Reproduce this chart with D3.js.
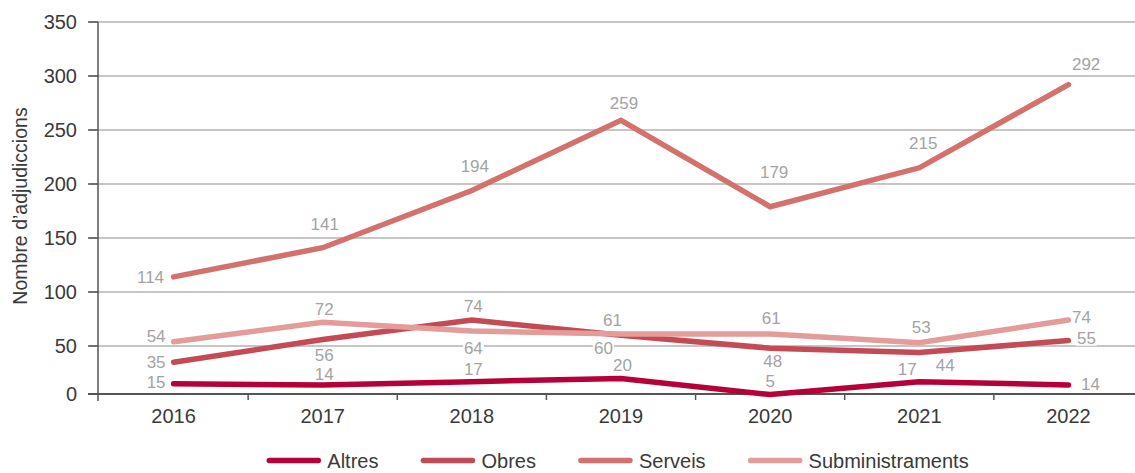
<!DOCTYPE html>
<html>
<head>
<meta charset="utf-8">
<script src="https://cdn.jsdelivr.net/npm/d3@7"></script>
<style>
  html, body { margin: 0; padding: 0; background: #fff; }
  svg { display: block; font-family: "Liberation Sans", Arial, Helvetica, sans-serif; }
</style>
</head>
<body>
<svg id="chart" width="1135" height="473"></svg>
<script>
// ---- Data ----
const years = ["2016", "2017", "2018", "2019", "2020", "2021", "2022"];
const seriesNames = ["Altres", "Obres", "Serveis", "Subministraments"];
const altres = [15, 14, 17, 20, 5, 17, 14];
const obres = [35, 56, 74, 60, 48, 44, 55];
const serveis = [114, 141, 194, 259, 179, 215, 292];
const subministraments = [54, 72, 64, 61, 61, 53, 74];
const yTicks = [0, 50, 100, 150, 200, 250, 300, 350];
const yTitle = "Nombre d\u2019adjudiccions";

// ---- Label placement (offsets from each point, px) ----
const altresLabelOffsets = [[-8, -1.5], [1.5, -11], [1.5, -13], [1.5, -13.5], [0, -13.5], [-12, -13], [12.5, -1.5]];
const obresLabelOffsets = [[-8, -0.5], [1.5, 15.5], [1.5, -14], [-17.5, 13], [2.5, 13], [26, 12], [8.5, -3]];
const serveisLabelOffsets = [[-9.5, 0], [2, -24], [3, -24.5], [3, -17.5], [4, -35], [4, -24.5], [3.5, -21]];
const subLabelOffsets = [[-8, -5.7], [1.5, -13], [1.5, 16.5], [-8.5, -14], [1, -16], [2, -16], [3.5, -3.5]];

// ---- Styles ----
const colors = ["#b5003a", "#c44a55", "#d4716f", "#e39c99"];

const W = 1135, H = 473;
const plotLeft = 99, plotRight = 1143, plotTop = 22, baseY = 394;

const svg = d3.select("#chart");

const x = d3.scaleBand().domain(years).range([plotLeft, plotRight]).paddingInner(0).paddingOuter(0);
const xc = d => x(d) + x.bandwidth() / 2;
const y = d3.scaleLinear().domain([0, 350]).range([400, plotTop]);
// axis position: zero tick sits on the baseline
const yAxisPos = d => Math.min(y(d), baseY);

const series = [
  { name: seriesNames[0], values: altres, offsets: altresLabelOffsets, color: colors[0] },
  { name: seriesNames[1], values: obres, offsets: obresLabelOffsets, color: colors[1] },
  { name: seriesNames[2], values: serveis, offsets: serveisLabelOffsets, color: colors[2] },
  { name: seriesNames[3], values: subministraments, offsets: subLabelOffsets, color: colors[3] }
];

// ---- Gridlines ----
const grid = svg.append("g");
grid.selectAll("line").data(yTicks.filter(d => d > 0)).join("line")
  .attr("x1", plotLeft - 10).attr("x2", W)
  .attr("y1", d => yAxisPos(d)).attr("y2", d => yAxisPos(d))
  .attr("stroke", "#b3b3b3").attr("stroke-width", 1.5);

// ---- Y axis ----
const yAxis = svg.append("g");
yAxis.append("line")
  .attr("x1", plotLeft - 1).attr("x2", plotLeft - 1)
  .attr("y1", plotTop).attr("y2", baseY + 7)
  .attr("stroke", "#555").attr("stroke-width", 1.5);
yAxis.selectAll("line.tick").data(yTicks).join("line").attr("class", "tick")
  .attr("x1", plotLeft - 11).attr("x2", plotLeft - 1)
  .attr("y1", d => yAxisPos(d)).attr("y2", d => yAxisPos(d))
  .attr("stroke", "#555").attr("stroke-width", 1.5);
yAxis.selectAll("text").data(yTicks).join("text")
  .attr("x", plotLeft - 22).attr("y", d => yAxisPos(d)).attr("dy", "0.36em")
  .attr("text-anchor", "end").attr("font-size", 20).attr("fill", "#3a3a3a")
  .text(d => d);

svg.append("text")
  .attr("transform", `translate(27,206) rotate(-90)`)
  .attr("text-anchor", "middle").attr("font-size", 19.5).attr("fill", "#3a3a3a")
  .text(yTitle);

// ---- X axis ----
const xAxis = svg.append("g");
xAxis.append("line")
  .attr("x1", plotLeft - 11).attr("x2", W)
  .attr("y1", baseY).attr("y2", baseY)
  .attr("stroke", "#555").attr("stroke-width", 1.8);
xAxis.selectAll("line.tick").data(years.slice(1)).join("line").attr("class", "tick")
  .attr("x1", d => x(d)).attr("x2", d => x(d))
  .attr("y1", baseY).attr("y2", baseY + 6)
  .attr("stroke", "#555").attr("stroke-width", 1.5);
xAxis.selectAll("text").data(years).join("text")
  .attr("x", d => xc(d)).attr("y", 416).attr("dy", "0.36em")
  .attr("text-anchor", "middle").attr("font-size", 20).attr("fill", "#3a3a3a")
  .text(d => d);

// ---- Labels (positions) ----
const labelItems = [];
series.forEach(s => {
  s.values.forEach((v, i) => {
    const anchor = i === 0 ? "end" : (i === years.length - 1 ? "start" : "middle");
    labelItems.push({
      v, anchor,
      x: xc(years[i]) + s.offsets[i][0],
      y: y(v) + s.offsets[i][1]
    });
  });
});

const labelFont = 17;
const bgLayer = svg.append("g");
const lineLayer = svg.append("g");
const textLayer = svg.append("g");

const labels = textLayer.selectAll("text").data(labelItems).join("text")
  .attr("x", d => d.x).attr("y", d => d.y).attr("dy", "0.36em")
  .attr("text-anchor", d => d.anchor)
  .attr("font-size", labelFont).attr("fill", "#a3a3a3")
  .text(d => d.v);

labels.each(function(d) {
  const b = this.getBBox();
  bgLayer.append("rect")
    .attr("x", b.x - 1).attr("y", b.y + 2)
    .attr("width", b.width + 2).attr("height", b.height - 4)
    .attr("fill", "#fff");
});

// ---- Lines ----
const line = d3.line().x((d, i) => xc(years[i])).y(d => y(d));
lineLayer.selectAll("path").data(series).join("path")
  .attr("d", s => line(s.values))
  .attr("fill", "none")
  .attr("stroke", s => s.color)
  .attr("stroke-width", 5.5)
  .attr("stroke-linecap", "round")
  .attr("stroke-linejoin", "miter");

// ---- Legend ----
const legendY = 460.5, swatch = 49, swatchGap = 9, itemGap = 45;
const legend = svg.append("g");
const items = legend.selectAll("g").data(series).join("g");
items.append("line")
  .attr("x1", 0).attr("x2", swatch).attr("y1", 0).attr("y2", 0)
  .attr("stroke", d => d.color).attr("stroke-width", 5.5).attr("stroke-linecap", "round");
items.append("text")
  .attr("x", swatch + swatchGap).attr("y", 0).attr("dy", "0.36em")
  .attr("font-size", 20).attr("fill", "#3a3a3a")
  .text(d => d.name);
let cursor = 0;
const widths = [];
items.each(function() {
  const t = d3.select(this).select("text").node().getComputedTextLength();
  widths.push(swatch + swatchGap + t);
});
const total = d3.sum(widths) + itemGap * (widths.length - 1);
let start = (plotLeft + plotRight) / 2 - total / 2 - 2;
items.attr("transform", (d, i) => {
  const pos = start + d3.sum(widths.slice(0, i)) + itemGap * i;
  return `translate(${pos},${legendY})`;
});
</script>
</body>
</html>
